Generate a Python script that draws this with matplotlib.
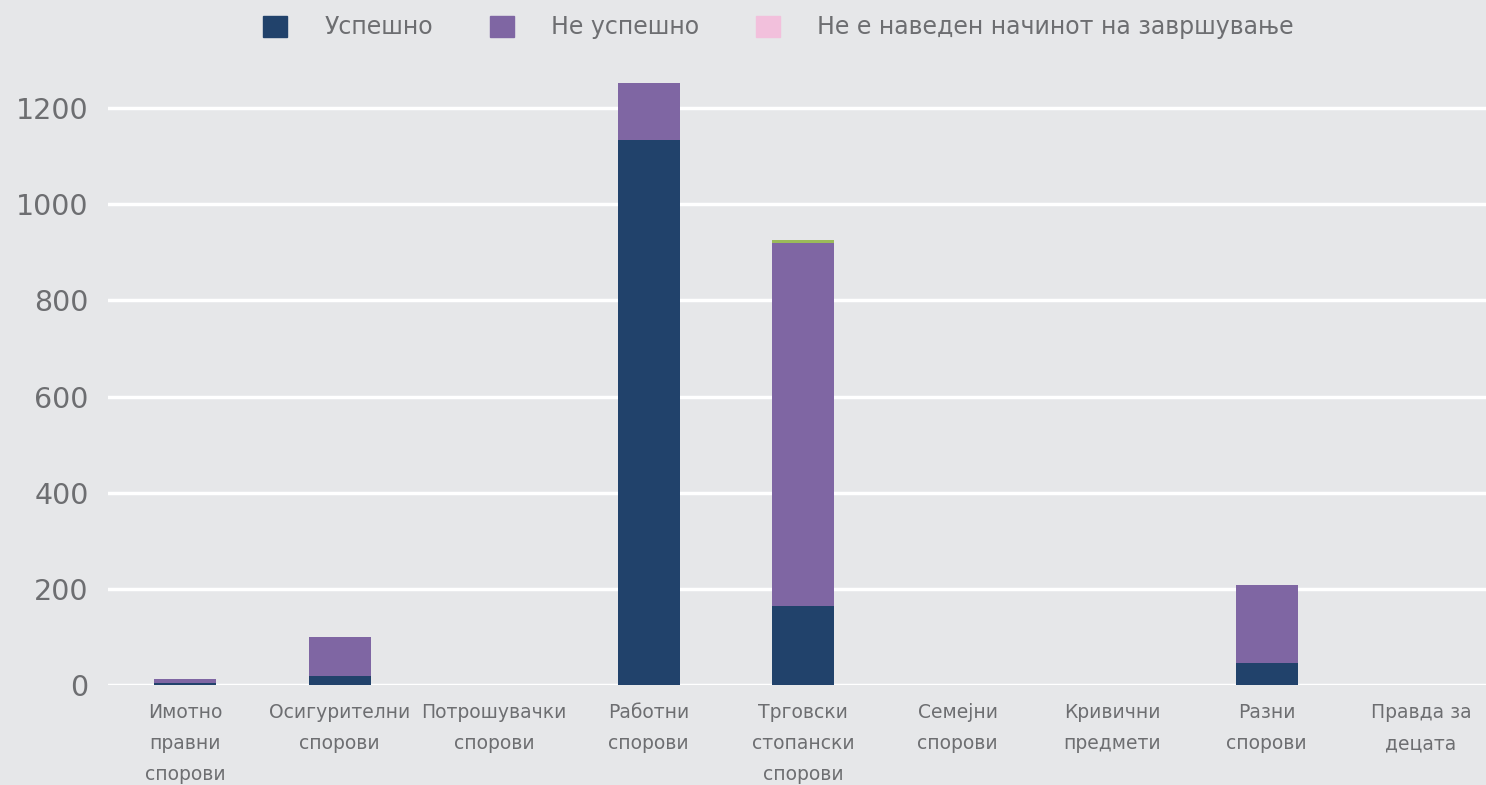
import numpy as np
import matplotlib.pyplot as plt
from matplotlib.patches import Patch

categories = ["Имотно\nправни\nспорови", "Осигурителни\nспорови", "Потрошувачки\nспорови",
              "Работни\nспорови", "Трговски\nстопански\nспорови", "Семејни\nспорови",
              "Кривични\nпредмети", "Разни\nспорови", "Правда за\nдецата"]
uspesno = [4, 19, 0, 1133, 164, 0, 0, 46, 0]
neuspesno = [9, 81, 0, 119, 755, 0, 0, 162, 0]
nenaveden = [0, 0, 0, 0, 0, 0, 0, 0, 0]
drugo = [0, 0, 0, 0, 6, 0, 0, 0, 0]

c_usp = "#21426b"
c_neu = "#7f66a3"
c_nen = "#f2c0dc"
c_dr = "#9bbb59"
bg = "#e6e7e9"
txt = "#6d6e71"

plt.rcParams['font.family'] = ['Liberation Sans Narrow', 'DejaVu Sans Condensed', 'DejaVu Sans']

fig = plt.figure(figsize=(14.86, 7.85), dpi=100, facecolor=bg)
ax = fig.add_axes([0.0727, 0.127, 0.9273, 0.797], facecolor=bg)

x = np.arange(len(categories))
w = 0.4
u = np.array(uspesno)
n = np.array(neuspesno)
p = np.array(nenaveden)
d = np.array(drugo)
ax.bar(x, u, w, color=c_usp, zorder=3)
ax.bar(x, n, w, bottom=u, color=c_neu, zorder=3)
ax.bar(x, p, w, bottom=u + n, color=c_nen, zorder=3)
ax.bar(x, d, w, bottom=u + n + p, color=c_dr, zorder=3)

ax.set_xlim(-0.5, 8.42)
ax.set_ylim(0, 1300)
ax.set_yticks(range(0, 1201, 200))
ax.yaxis.grid(True, color="white", linewidth=2.5, zorder=0)
ax.set_axisbelow(True)
for s in ax.spines.values():
    s.set_visible(False)
ax.tick_params(axis='both', length=0)
ax.tick_params(axis='y', labelsize=20.5, labelcolor=txt, pad=14)
ax.set_xticks(x)
ax.set_xticklabels(categories, fontsize=13.5, color=txt, linespacing=1.8)
ax.tick_params(axis='x', pad=13)

handles = [Patch(color=c_usp), Patch(color=c_neu), Patch(color=c_nen)]
labels = ["Успешно", "Не успешно", "Не е наведен начинот на завршување"]
fig.legend(handles, labels, loc='center', bbox_to_anchor=(0.524, 0.965), ncol=3,
           frameon=False, fontsize=17, labelcolor=txt, handlelength=1.0, handleheight=1.0,
           handletextpad=1.6, columnspacing=2.4)

fig.savefig("out.png", dpi=100, facecolor=bg)
